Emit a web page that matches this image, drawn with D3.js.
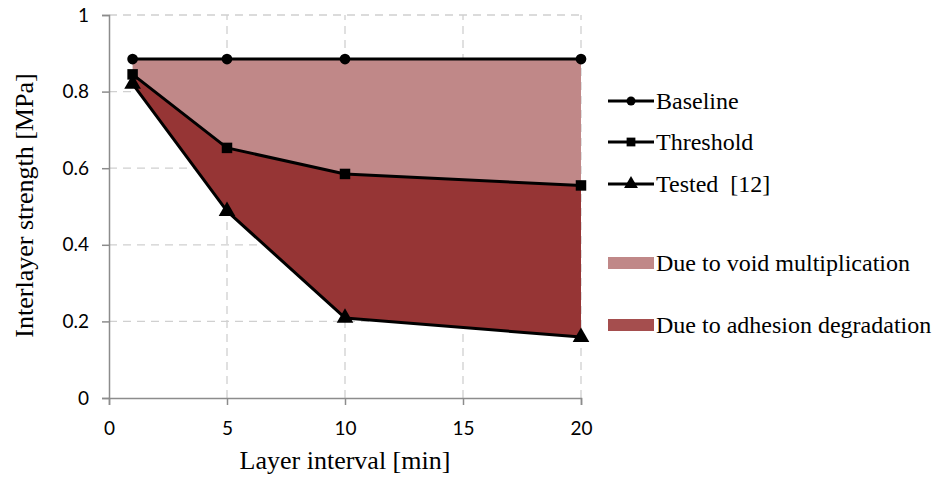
<!DOCTYPE html>
<html>
<head>
<meta charset="utf-8">
<script src="https://cdn.jsdelivr.net/npm/d3@7"></script>
<style>
  body { margin: 0; background: #fff; }
  svg { display: block; }
</style>
</head>
<body>
<div id="chart"></div>
<script>
const intervals = [1, 5, 10, 20];
const baseline = [0.885, 0.885, 0.885, 0.885];
const threshold = [0.845, 0.653, 0.585, 0.555];
const tested = [0.82, 0.488, 0.209, 0.159];
const xTicks = [0, 5, 10, 15, 20];
const yTicks = [0, 0.2, 0.4, 0.6, 0.8, 1];

const SERIF = "Liberation Serif";
const SANS = "Lato";

const width = 936, height = 481;
const margin = { top: 15, left: 109, right: 355, bottom: 83 };

const svg = d3.select("#chart")
  .append("svg")
  .attr("width", width)
  .attr("height", height);

const x = d3.scaleLinear().domain([0, 20]).range([margin.left, width - margin.right]);
const y = d3.scaleLinear().domain([0, 1]).range([height - margin.bottom, margin.top]);

// grid
svg.append("g")
  .selectAll("line")
  .data(yTicks.filter(d => d > 0))
  .join("line")
    .attr("x1", x(0)).attr("x2", x(20))
    .attr("y1", d => y(d)).attr("y2", d => y(d))
    .attr("stroke", "#d0d0d0")
    .attr("stroke-width", 1.3)
    .attr("stroke-dasharray", "8,6");
svg.append("g")
  .selectAll("line")
  .data(xTicks.filter(d => d > 0))
  .join("line")
    .attr("x1", d => x(d)).attr("x2", d => x(d))
    .attr("y1", y(0)).attr("y2", y(1))
    .attr("stroke", "#d0d0d0")
    .attr("stroke-width", 1.3)
    .attr("stroke-dasharray", "8,6");

// areas
const pts = intervals.map((d, i) => ({ x: d, b: baseline[i], t: threshold[i], s: tested[i] }));
svg.append("path")
  .datum(pts)
  .attr("fill", "#c08888")
  .attr("d", d3.area().x(d => x(d.x)).y0(d => y(d.t)).y1(d => y(d.b)));
svg.append("path")
  .datum(pts)
  .attr("fill", "#963535")
  .attr("d", d3.area().x(d => x(d.x)).y0(d => y(d.s)).y1(d => y(d.t)));

// axes
const yAxis = svg.append("g")
  .attr("transform", `translate(${x(0)},0)`)
  .call(d3.axisLeft(y).tickValues(yTicks).tickSize(7).tickFormat(d => d === 1 ? "1" : d === 0 ? "0" : d3.format(".1f")(d)));
const xAxis = svg.append("g")
  .attr("transform", `translate(0,${y(0)})`)
  .call(d3.axisBottom(x).tickValues(xTicks).tickSize(7));
[xAxis, yAxis].forEach(g => {
  g.attr("font-family", SANS).attr("font-size", 19);
  g.select(".domain").attr("stroke", "#8c8c8c").attr("stroke-width", 1.5);
  g.selectAll(".tick line").attr("stroke", "#8c8c8c").attr("stroke-width", 1.5);
  g.selectAll(".tick text").attr("fill", "#000");
});
yAxis.selectAll(".tick text").attr("x", -20);
xAxis.selectAll(".tick text").attr("y", 24);

// lines and markers
const series = [
  { name: "Baseline", values: baseline, marker: d3.symbolCircle, size: 90 },
  { name: "Threshold", values: threshold, marker: d3.symbolSquare, size: 110 },
  { name: "Tested  [12]", values: tested, marker: d3.symbolTriangle, size: 120 }
];
const line = d3.line().x(d => x(d[0])).y(d => y(d[1]));
series.forEach(s => {
  const data = intervals.map((d, i) => [d, s.values[i]]);
  svg.append("path")
    .datum(data)
    .attr("fill", "none")
    .attr("stroke", "#000")
    .attr("stroke-width", 3)
    .attr("stroke-linejoin", "round")
    .attr("d", line);
  svg.append("g")
    .selectAll("path")
    .data(data)
    .join("path")
      .attr("transform", d => `translate(${x(d[0])},${y(d[1])})`)
      .attr("d", d3.symbol().type(s.marker).size(s.size));
});

// axis titles
svg.append("text")
  .attr("x", x(10))
  .attr("y", 469)
  .attr("text-anchor", "middle")
  .attr("font-family", SERIF)
  .attr("font-size", 26)
  .text("Layer interval [min]");
svg.append("text")
  .attr("transform", `translate(33,${y(0.5) - 1}) rotate(-90)`)
  .attr("text-anchor", "middle")
  .attr("font-family", SERIF)
  .attr("font-size", 26)
  .text("Interlayer strength [MPa]");

// legend
const legend = svg.append("g").attr("transform", "translate(608,0)");
const lineYs = [101, 142, 184];
series.forEach((s, i) => {
  const g = legend.append("g").attr("transform", `translate(0,${lineYs[i]})`);
  g.append("line").attr("x1", 0).attr("x2", 46).attr("stroke", "#000").attr("stroke-width", 3);
  g.append("path").attr("transform", "translate(23,0)").attr("d", d3.symbol().type(s.marker).size(s.size * 0.7));
  g.append("text")
    .attr("x", 48).attr("y", 8)
    .attr("font-family", SERIF)
    .attr("font-size", 24)
    .style("white-space", "pre")
    .text(s.name);
});
const areaLegend = [
  { name: "Due to void multiplication", fill: "#c08888", y: 263 },
  { name: "Due to adhesion degradation", fill: "#a54e4e", y: 325 }
];
areaLegend.forEach(a => {
  const g = legend.append("g").attr("transform", `translate(0,${a.y})`);
  g.append("rect").attr("x", 0).attr("y", -6).attr("width", 46).attr("height", 12).attr("fill", a.fill);
  g.append("text")
    .attr("x", 48).attr("y", 8)
    .attr("font-family", SERIF)
    .attr("font-size", 24)
    .text(a.name);
});
</script>
</body>
</html>
